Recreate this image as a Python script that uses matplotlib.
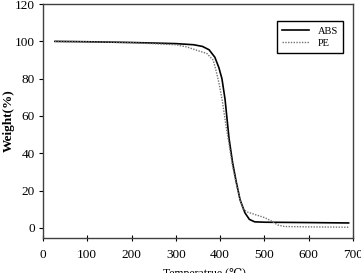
import matplotlib
matplotlib.use('Agg')
import matplotlib.pyplot as plt

abs_temp = [27, 100, 200, 300, 340, 360, 375, 388, 397, 404, 411, 420, 428, 436,
            445, 456, 466, 478, 500, 600, 690]
abs_weight = [100, 99.8, 99.4, 98.8, 98.2, 97.3, 95.5, 91.5, 86, 80, 69, 48, 35, 25,
              15, 8, 4.5, 3.2, 3.0, 2.8, 2.6]

pe_temp = [27, 100, 200, 300, 325, 350, 370, 384, 390, 397, 405, 413, 420, 428,
           436, 445, 452, 461, 480, 500, 517, 530, 545, 600, 690]
pe_weight = [100, 99.8, 99.3, 98.2, 97, 95, 93.5, 90, 85, 78, 68, 55, 45, 33,
             24, 15, 10, 8.5, 7, 5.5, 3.5, 1.5, 0.7, 0.5, 0.3]

x_ticks = [0, 100, 200, 300, 400, 500, 600, 700]
y_ticks = [0, 20, 40, 60, 80, 100, 120]

plt.rcParams['font.family'] = ['Liberation Serif', 'DejaVu Serif']

fig = plt.figure(figsize=(3.61, 2.73), dpi=100)
ax = fig.add_axes([0.119, 0.128, 0.859, 0.857])

ax.plot(abs_temp, abs_weight, color='black', lw=1.2, label='ABS')
ax.plot(pe_temp, pe_weight, color='0.45', lw=1.0, linestyle=(0, (1, 1)), label='PE')

ax.set_xlim(0, 700)
ax.set_ylim(-5.5, 120)
ax.set_xticks(x_ticks)
ax.set_yticks(y_ticks)
ax.tick_params(axis='x', direction='inout', length=4, labelsize=9.5, pad=6)
ax.tick_params(axis='y', direction='out', length=3, labelsize=9.5, pad=3)
for s in ax.spines.values():
    s.set_linewidth(1.0)
    s.set_color('0.25')

ax.set_xlabel('Temperatrue (℃)', fontsize=8.5)
ax.set_ylabel('Weight(%)', fontsize=9.5, fontweight='bold')
ax.xaxis.set_label_coords(0.52, -0.128)
ax.yaxis.set_label_coords(-0.092, 0.50)

leg = ax.legend(loc='upper right', bbox_to_anchor=(0.985, 0.95), fontsize=7.5,
                fancybox=False, edgecolor='black', framealpha=1,
                handlelength=2.6, borderpad=0.5, labelspacing=0.3)
leg.get_frame().set_linewidth(1.0)

fig.savefig('out.png', dpi=100)
